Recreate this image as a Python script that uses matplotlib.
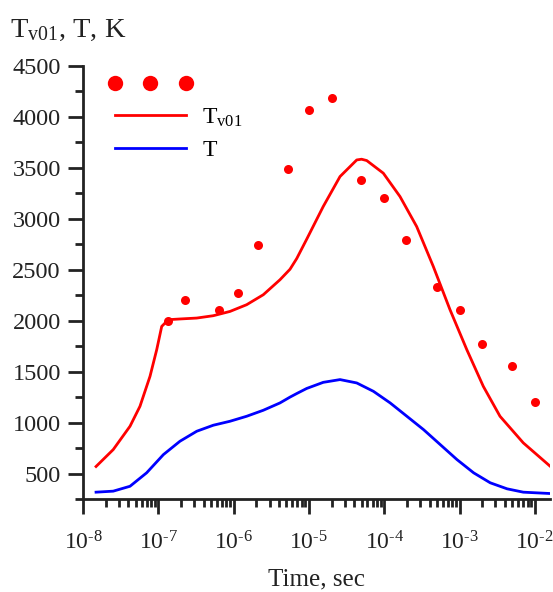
import numpy as np
import matplotlib
matplotlib.use("Agg")
import matplotlib.pyplot as plt
from matplotlib.ticker import MultipleLocator, LogLocator, NullFormatter, FuncFormatter, FixedLocator

plt.rcParams['font.family'] = ['Liberation Serif', 'DejaVu Serif']
plt.rcParams['mathtext.fontset'] = 'custom'
plt.rcParams['mathtext.rm'] = 'Liberation Serif'
plt.rcParams['mathtext.it'] = 'Liberation Serif:italic'
plt.rcParams['mathtext.bf'] = 'Liberation Serif:bold'

# ---- data ----
# Tv01 model curve (red)
tv_time = [1.49e-8, 2.52e-8, 4.21e-8, 5.71e-8, 7.76e-8, 9.53e-8, 1.11e-7, 1.36e-7,
           1.94e-7, 3.24e-7, 5.37e-7, 8.95e-7, 1.49e-6, 2.48e-6, 4.13e-6, 5.61e-6,
           6.89e-6, 9.35e-6, 1.55e-5, 2.59e-5, 4.32e-5, 5.01e-5, 5.86e-5, 9.73e-5,
           1.62e-4, 2.70e-4, 4.49e-4, 7.48e-4, 1.25e-3, 2.07e-3, 3.45e-3, 7.03e-3,
           1.58e-2]
tv_vals = [569, 735, 964, 1160, 1454, 1716, 1944, 2010,
           2017, 2026, 2049, 2091, 2157, 2255, 2402, 2505,
           2610, 2800, 3121, 3415, 3578, 3585, 3572, 3448,
           3219, 2924, 2532, 2108, 1716, 1356, 1062, 801,
           575]

# T model curve (blue)
t_time = [1.49e-8, 2.52e-8, 4.21e-8, 7.00e-8, 1.17e-7, 1.94e-7, 3.24e-7, 5.37e-7,
          8.95e-7, 1.49e-6, 2.48e-6, 4.13e-6, 5.61e-6, 6.89e-6, 9.35e-6, 1.55e-5,
          2.59e-5, 4.32e-5, 7.19e-5, 1.20e-4, 2.00e-4, 3.33e-4, 5.55e-4, 9.25e-4,
          1.54e-3, 2.56e-3, 4.28e-3, 7.03e-3, 1.58e-2]
t_vals = [317, 327, 375, 507, 686, 817, 915, 974,
          1013, 1062, 1121, 1193, 1250, 1285, 1335, 1395,
          1422, 1389, 1307, 1193, 1062, 931, 784, 637,
          507, 409, 350, 317, 304]

# Tv01 measured points (red dots)
pts_time = [1.36e-7, 2.26e-7, 6.45e-7, 1.13e-6, 2.1e-6, 5.3e-6, 1.0e-5, 2.0e-5,
            4.9e-5, 1.0e-4, 1.95e-4, 5.0e-4, 1.0e-3, 2.0e-3, 5.0e-3, 1.0e-2]
pts_vals = [2000, 2206, 2101, 2271, 2745, 3487, 4069, 4186,
            3382, 3203, 2794, 2330, 2101, 1775, 1552, 1203]

x_ticks = [1e-8, 1e-7, 1e-6, 1e-5, 1e-4, 1e-3, 1e-2]
y_ticks = [500, 1000, 1500, 2000, 2500, 3000, 3500, 4000, 4500]
legend_labels = ['', r'T$_{\mathrm{v01}}$', 'T']

RED = '#ff0000'
BLUE = '#0000ff'
INK = '#222222'

fig = plt.figure(figsize=(5.53, 5.92), dpi=100)
ax = fig.add_axes([83/553, 1-499/592, (550-83)/553, (499-66)/592])

h_pts, = ax.plot(pts_time, pts_vals, 'o', color=RED, markersize=6.5, markeredgewidth=0)
h_tv, = ax.plot(tv_time, tv_vals, '-', color=RED, lw=2, solid_joinstyle='round')
h_t, = ax.plot(t_time, t_vals, '-', color=BLUE, lw=2, solid_joinstyle='round')

ax.set_xscale('log')
ax.set_xlim(1e-8, 10**(-8 + (550-83)/75.3))
ax.set_ylim(250, 4500)
ax.set_yticks(y_ticks)
ax.yaxis.set_minor_locator(MultipleLocator(250))
ax.xaxis.set_major_locator(FixedLocator(x_ticks))
ax.xaxis.set_minor_locator(LogLocator(base=10, subs=np.arange(2, 10), numticks=20))
ax.xaxis.set_minor_formatter(NullFormatter())


def log_fmt(v, pos):
    e = int(round(np.log10(v)))
    sign = '\u2010' if e < 0 else ''
    return r'$\mathregular{10^{%s%d}}$' % (sign, abs(e))


ax.xaxis.set_major_formatter(FuncFormatter(log_fmt))

for s in ['top', 'right']:
    ax.spines[s].set_visible(False)
for s in ['left', 'bottom']:
    ax.spines[s].set_linewidth(2)
    ax.spines[s].set_color(INK)

ax.tick_params(which='major', direction='out', length=11, width=2, labelsize=17,
               colors=INK)
ax.tick_params(which='minor', direction='out', length=5.5, width=2, colors=INK)
ax.tick_params(axis='x', which='major', pad=12)
ax.tick_params(axis='y', which='major', pad=5, labelsize=17.5)

ax.set_xlabel('Time, sec', fontsize=18, labelpad=10, color=INK)
fig.text(10/553, 1-30/592, r'T$_{\mathrm{v01}}$, T, K', fontsize=20.5, ha='left',
         va='center', color=INK)

leg = ax.legend([h_pts, h_tv, h_t], legend_labels, loc='upper left',
                bbox_to_anchor=(0.008, 1.03), frameon=False, numpoints=3,
                markerscale=1.7, handlelength=3.6, fontsize=17, labelspacing=0.45,
                handletextpad=0.4)

fig.savefig('out.png', dpi=100)
